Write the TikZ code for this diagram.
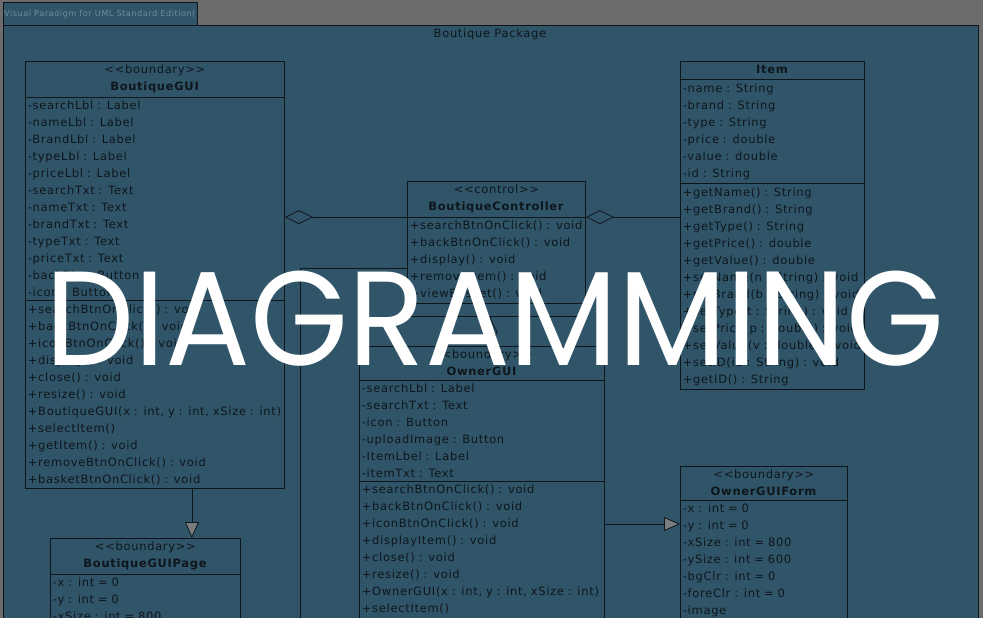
\documentclass[tikz,border=0pt]{standalone}
\usepackage{fontspec}
\setmainfont{DejaVu Sans}[LetterSpace=6]
\newfontfamily\bigfont{Poppins}
\usepackage{tikz}
\usetikzlibrary{arrows.meta,calc,shapes.multipart,positioning}

\definecolor{pkgblue}{RGB}{48,85,105}
\definecolor{outergray}{RGB}{108,108,108}
\definecolor{inkdark}{RGB}{14,22,28}
\definecolor{tabtext}{RGB}{112,140,156}
\definecolor{trigray}{RGB}{122,126,128}

\begin{document}
\begin{tikzpicture}[x=1pt, y=-1pt,
	font=\fontsize{11.5}{17}\selectfont,
	umlbox/.style={draw=inkdark, line width=0.8pt, text=inkdark, rectangle split, rectangle split parts=3,
		anchor=north west, inner xsep=2.5pt, inner ysep=3.4pt},
	aggr/.style={draw=inkdark, line width=0.8pt, arrows={Diamond[open, length=28pt, width=14pt]-}},
	gen/.style={draw=inkdark, line width=0.8pt, arrows={-Triangle[fill=trigray, length=16pt, width=14pt]}}]
	\useasboundingbox[fill=outergray] (0,0) rectangle (983,618);
	\clip (0,0) rectangle (983,618);
	% package frame and tab
	\draw[draw=inkdark, fill=pkgblue] (3,2) rectangle (197,25);
	\draw[draw=inkdark, fill=pkgblue] (3,25) rectangle (978,660);
	\begin{scope}
		\clip (3,2) rectangle (197,25);
		\node[anchor=west, text=tabtext, font=\fontsize{8.2}{10}\selectfont, inner sep=0pt] (vp) at (4,14) {Visual Paradigm for UML Standard Edition(};
	\end{scope}
	\node[text=inkdark] (pkg) at (490,34) {Boutique Package};

	% classes
	\node[umlbox, text width=254pt] (gui) at (25,61) {\centering {<}{<}boundary{>}{>}\\\textbf{BoutiqueGUI}\par
		\nodepart{second} -searchLbl : Label\\-nameLbl : Label\\-BrandLbl : Label\\-typeLbl : Label\\-priceLbl : Label\\-searchTxt : Text\\-nameTxt : Text\\-brandTxt : Text\\-typeTxt : Text\\-priceTxt : Text\\-backBtn : Button\\-icon : Button
		\nodepart{third} +searchBtnOnClick() : void\\+backBtnOnClick() : void\\+iconBtnOnClick() : void\\+display() : void\\+close() : void\\+resize() : void\\+BoutiqueGUI(x : int, y : int, xSize : int)\\+selectItem()\\+getItem() : void\\+removeBtnOnClick() : void\\+basketBtnOnClick() : void};
	\node[umlbox, rectangle split parts=2, text width=185pt] (page) at (50,538) {\centering {<}{<}boundary{>}{>}\\\textbf{BoutiqueGUIPage}\par
		\nodepart{second} -x : int = 0\\-y : int = 0\\-xSize : int = 800\rule[-14pt]{0pt}{14pt}};
	\node[umlbox, text width=173pt] (ctrl) at (407,181) {\centering {<}{<}control{>}{>}\\\textbf{BoutiqueController}\par
		\nodepart{second} +searchBtnOnClick() : void\\+backBtnOnClick() : void\\+display() : void\\+removeItem() : void\\+viewBasket() : void};
	\node[umlbox, text width=179pt] (item) at (680,61) {\centering \textbf{Item}\vphantom{y}\par
		\nodepart{second} -name : String\\-brand : String\\-type : String\\-price : double\\-value : double\\-id : String
		\nodepart{third} +getName() : String\\+getBrand() : String\\+getType() : String\\+getPrice() : double\\+getValue() : double\\+setName(n : String) : void\\+setBrand(b : String) : void\\+setType(t : String) : void\\+setPrice(p : double) : void\\+setValue(v : double) : void\\+setID(id : String) : void\\+getID() : String};
	\node[umlbox, text width=240pt] (owner) at (359,346) {\centering {<}{<}boundary{>}{>}\\\textbf{OwnerGUI}\par
		\nodepart{second} -searchLbl : Label\\-searchTxt : Text\\-icon : Button\\-uploadImage : Button\\-ItemLbel : Label\\-itemTxt : Text
		\nodepart{third} +searchBtnOnClick() : void\\+backBtnOnClick() : void\\+iconBtnOnClick() : void\\+displayItem() : void\\+close() : void\\+resize() : void\\+OwnerGUI(x : int, y : int, xSize : int)\\+selectItem()\rule[-14pt]{0pt}{14pt}};
	\node[umlbox, rectangle split parts=2, text width=162pt] (form) at (680,466) {\centering {<}{<}boundary{>}{>}\\\textbf{OwnerGUIForm}\par
		\nodepart{second} -x : int = 0\\-y : int = 0\\-xSize : int = 800\\-ySize : int = 600\\-bgClr : int = 0\\-foreClr : int = 0\\-image\rule[-14pt]{0pt}{14pt}};

	% connectors
	\draw[aggr] (gui.east |- ctrl.one split west) -- (ctrl.one split west);
	\draw[aggr] (ctrl.one split east) -- (item.west |- ctrl.one split east);
	\coordinate (c1) at ($(ctrl.south)+(-6,0)$);
	\draw[aggr] (c1 |- owner.north) -- (c1);
	\coordinate (g1) at ($(gui.south)+(37,0)$);
	\draw[gen] (g1) -- (g1 |- page.north);
	\coordinate (f1) at ($(form.north west)+(0,58)$);
	\draw[gen] (f1 -| owner.east) -- (f1);
	\coordinate (c2) at ($(ctrl.west)+(0,20)$);
	\coordinate (offpage) at (300,640);
	\draw[draw=inkdark, line width=0.8pt] (c2) -- (c2 -| offpage) -- (offpage);

	% overlay
	\node[text=white, font=\bigfont\fontsize{134}{134}\selectfont, anchor=base, inner sep=0pt] (title) at (495,365) {\scalebox{0.94}[1]{DIAGRAMMING}};
\end{tikzpicture}
\end{document}
